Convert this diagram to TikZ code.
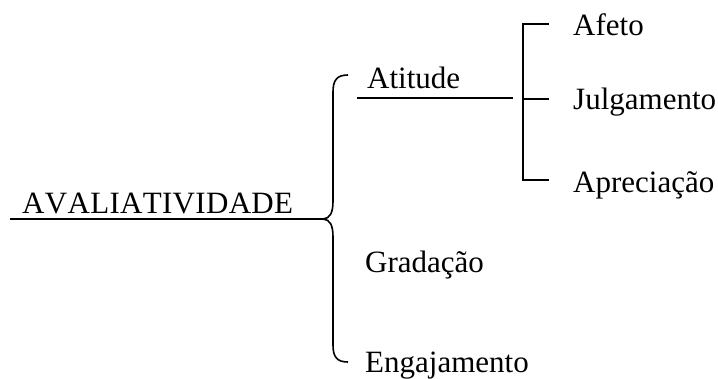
\documentclass[tikz,border=0pt]{standalone}
\usepackage{fontspec}
\setmainfont{Liberation Serif}[Kerning=Off]
\begin{document}
\begin{tikzpicture}[x=1pt,y=-1pt,
  lbl/.style={anchor=base west,inner sep=0pt,font=\fontsize{31}{36}\selectfont},
  ln/.style={line width=1.6pt,line cap=butt}]
\useasboundingbox (0,0) rectangle (718,378);
% texts
\node[lbl] (aval) at (22,213) {\addfontfeature{LetterSpace=1}AVALIATIVIDADE};
\node[lbl] (atit) at (367,88) {Atitude};
\node[lbl] (grad) at (365,272) {Gradação};
\node[lbl] (enga) at (365,372) {Engajamento};
\node[lbl] (afet) at (573,35) {Afeto};
\node[lbl] (julg) at (573,109) {Julgamento};
\node[lbl] (apre) at (573,192) {Apreciação};
% coordinates
\coordinate (mainL) at (10,219);
\coordinate (tip) at (323,219);
\coordinate (btop) at (348,75);
\coordinate (bbot) at (348,362);
\coordinate (atL) at (357,98);
\coordinate (atR) at (513,98);
\coordinate (sT) at (523,24);
\coordinate (sM) at (523,99);
\coordinate (sB) at (523,180);
\coordinate (tT) at (549,24);
\coordinate (tM) at (549,99);
\coordinate (tB) at (549,180);
% main line
\draw[ln] (mainL) -- (tip);
% brace
\draw[ln] (btop) .. controls (337,75) and (333,80) .. (333,92) -- (333,201)
  .. controls (333,213) and (330,218.5) .. (tip)
  .. controls (330,219.5) and (333,225) .. (333,237) -- (333,345)
  .. controls (333,357) and (337,362) .. (bbot);
% Atitude line
\draw[ln] (atL) -- (atR);
% right bracket
\draw[ln] (tT) -- (sT) -- (sB) -- (tB);
\draw[ln] (sM) -- (tM);
\end{tikzpicture}
\end{document}
